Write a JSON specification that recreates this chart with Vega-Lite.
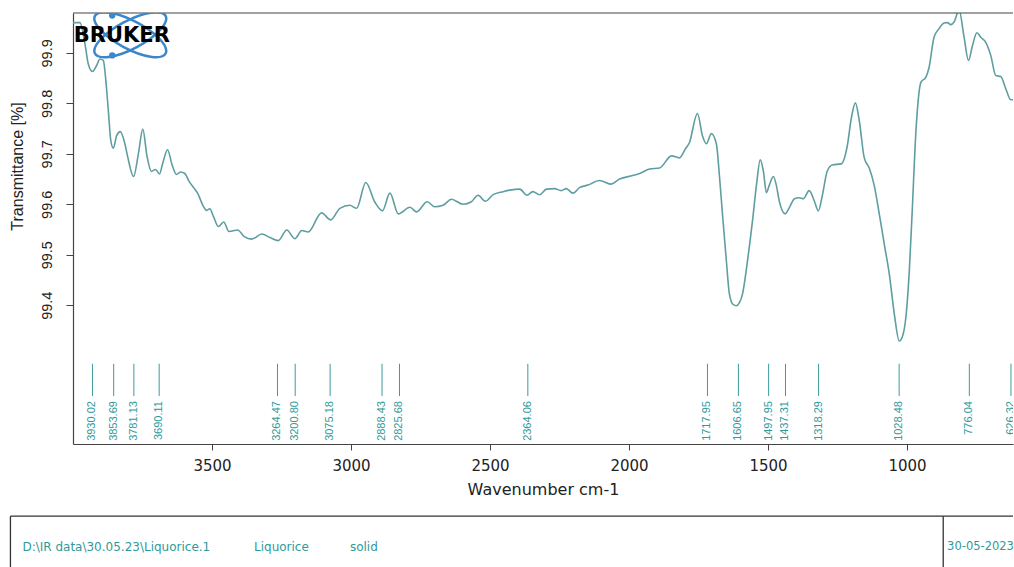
{
  "$schema": "https://vega.github.io/schema/vega-lite/v6.json",
  "padding": {"left": 9, "top": 12, "right": 0, "bottom": 0},
  "background": "white",
  "width": 940,
  "height": 431,
  "config": {"view": {"stroke": null}},
  "datasets": {
    "spectrum": [
      {"wavenumber": 4000, "transmittance": 99.960},
      {"wavenumber": 3975, "transmittance": 99.960},
      {"wavenumber": 3957, "transmittance": 99.918},
      {"wavenumber": 3945, "transmittance": 99.878},
      {"wavenumber": 3930, "transmittance": 99.863},
      {"wavenumber": 3915, "transmittance": 99.875},
      {"wavenumber": 3903, "transmittance": 99.888},
      {"wavenumber": 3891, "transmittance": 99.885},
      {"wavenumber": 3883, "transmittance": 99.852},
      {"wavenumber": 3873, "transmittance": 99.786},
      {"wavenumber": 3864, "transmittance": 99.726},
      {"wavenumber": 3855, "transmittance": 99.711},
      {"wavenumber": 3843, "transmittance": 99.736},
      {"wavenumber": 3830, "transmittance": 99.744},
      {"wavenumber": 3813, "transmittance": 99.719},
      {"wavenumber": 3804, "transmittance": 99.696},
      {"wavenumber": 3782, "transmittance": 99.655},
      {"wavenumber": 3764, "transmittance": 99.703},
      {"wavenumber": 3749, "transmittance": 99.749},
      {"wavenumber": 3734, "transmittance": 99.696},
      {"wavenumber": 3718, "transmittance": 99.665},
      {"wavenumber": 3703, "transmittance": 99.669},
      {"wavenumber": 3689, "transmittance": 99.660},
      {"wavenumber": 3677, "transmittance": 99.682},
      {"wavenumber": 3660, "transmittance": 99.708},
      {"wavenumber": 3644, "transmittance": 99.679},
      {"wavenumber": 3628, "transmittance": 99.659},
      {"wavenumber": 3613, "transmittance": 99.664},
      {"wavenumber": 3598, "transmittance": 99.661},
      {"wavenumber": 3582, "transmittance": 99.645},
      {"wavenumber": 3563, "transmittance": 99.631},
      {"wavenumber": 3551, "transmittance": 99.621},
      {"wavenumber": 3532, "transmittance": 99.597},
      {"wavenumber": 3520, "transmittance": 99.588},
      {"wavenumber": 3508, "transmittance": 99.591},
      {"wavenumber": 3495, "transmittance": 99.576},
      {"wavenumber": 3477, "transmittance": 99.556},
      {"wavenumber": 3458, "transmittance": 99.565},
      {"wavenumber": 3439, "transmittance": 99.546},
      {"wavenumber": 3408, "transmittance": 99.549},
      {"wavenumber": 3384, "transmittance": 99.536},
      {"wavenumber": 3357, "transmittance": 99.531},
      {"wavenumber": 3321, "transmittance": 99.541},
      {"wavenumber": 3291, "transmittance": 99.534},
      {"wavenumber": 3262, "transmittance": 99.528},
      {"wavenumber": 3231, "transmittance": 99.549},
      {"wavenumber": 3202, "transmittance": 99.532},
      {"wavenumber": 3177, "transmittance": 99.548},
      {"wavenumber": 3154, "transmittance": 99.545},
      {"wavenumber": 3106, "transmittance": 99.583},
      {"wavenumber": 3073, "transmittance": 99.569},
      {"wavenumber": 3040, "transmittance": 99.592},
      {"wavenumber": 3004, "transmittance": 99.598},
      {"wavenumber": 2980, "transmittance": 99.592},
      {"wavenumber": 2947, "transmittance": 99.643},
      {"wavenumber": 2914, "transmittance": 99.604},
      {"wavenumber": 2887, "transmittance": 99.587},
      {"wavenumber": 2860, "transmittance": 99.622},
      {"wavenumber": 2830, "transmittance": 99.581},
      {"wavenumber": 2788, "transmittance": 99.594},
      {"wavenumber": 2764, "transmittance": 99.585},
      {"wavenumber": 2726, "transmittance": 99.605},
      {"wavenumber": 2699, "transmittance": 99.595},
      {"wavenumber": 2669, "transmittance": 99.598},
      {"wavenumber": 2639, "transmittance": 99.610},
      {"wavenumber": 2597, "transmittance": 99.600},
      {"wavenumber": 2567, "transmittance": 99.605},
      {"wavenumber": 2543, "transmittance": 99.618},
      {"wavenumber": 2517, "transmittance": 99.606},
      {"wavenumber": 2489, "transmittance": 99.619},
      {"wavenumber": 2453, "transmittance": 99.625},
      {"wavenumber": 2429, "transmittance": 99.628},
      {"wavenumber": 2393, "transmittance": 99.630},
      {"wavenumber": 2367, "transmittance": 99.618},
      {"wavenumber": 2346, "transmittance": 99.625},
      {"wavenumber": 2322, "transmittance": 99.619},
      {"wavenumber": 2297, "transmittance": 99.630},
      {"wavenumber": 2268, "transmittance": 99.631},
      {"wavenumber": 2244, "transmittance": 99.627},
      {"wavenumber": 2226, "transmittance": 99.631},
      {"wavenumber": 2202, "transmittance": 99.622},
      {"wavenumber": 2178, "transmittance": 99.633},
      {"wavenumber": 2148, "transmittance": 99.638},
      {"wavenumber": 2106, "transmittance": 99.647},
      {"wavenumber": 2066, "transmittance": 99.640},
      {"wavenumber": 2034, "transmittance": 99.650},
      {"wavenumber": 1987, "transmittance": 99.657},
      {"wavenumber": 1962, "transmittance": 99.661},
      {"wavenumber": 1926, "transmittance": 99.670},
      {"wavenumber": 1890, "transmittance": 99.672},
      {"wavenumber": 1847, "transmittance": 99.696},
      {"wavenumber": 1819, "transmittance": 99.692},
      {"wavenumber": 1797, "transmittance": 99.710},
      {"wavenumber": 1783, "transmittance": 99.722},
      {"wavenumber": 1754, "transmittance": 99.780},
      {"wavenumber": 1736, "transmittance": 99.736},
      {"wavenumber": 1722, "transmittance": 99.720},
      {"wavenumber": 1704, "transmittance": 99.740},
      {"wavenumber": 1686, "transmittance": 99.720},
      {"wavenumber": 1675, "transmittance": 99.657},
      {"wavenumber": 1664, "transmittance": 99.581},
      {"wavenumber": 1650, "transmittance": 99.488},
      {"wavenumber": 1639, "transmittance": 99.422},
      {"wavenumber": 1625, "transmittance": 99.401},
      {"wavenumber": 1614, "transmittance": 99.399},
      {"wavenumber": 1603, "transmittance": 99.405},
      {"wavenumber": 1592, "transmittance": 99.422},
      {"wavenumber": 1574, "transmittance": 99.488},
      {"wavenumber": 1556, "transmittance": 99.567},
      {"wavenumber": 1542, "transmittance": 99.637},
      {"wavenumber": 1528, "transmittance": 99.688},
      {"wavenumber": 1517, "transmittance": 99.666},
      {"wavenumber": 1506, "transmittance": 99.623},
      {"wavenumber": 1496, "transmittance": 99.637},
      {"wavenumber": 1481, "transmittance": 99.655},
      {"wavenumber": 1470, "transmittance": 99.637},
      {"wavenumber": 1460, "transmittance": 99.607},
      {"wavenumber": 1438, "transmittance": 99.581},
      {"wavenumber": 1424, "transmittance": 99.593},
      {"wavenumber": 1405, "transmittance": 99.611},
      {"wavenumber": 1388, "transmittance": 99.613},
      {"wavenumber": 1373, "transmittance": 99.611},
      {"wavenumber": 1352, "transmittance": 99.627},
      {"wavenumber": 1334, "transmittance": 99.607},
      {"wavenumber": 1319, "transmittance": 99.587},
      {"wavenumber": 1305, "transmittance": 99.617},
      {"wavenumber": 1287, "transmittance": 99.666},
      {"wavenumber": 1269, "transmittance": 99.678},
      {"wavenumber": 1237, "transmittance": 99.680},
      {"wavenumber": 1215, "transmittance": 99.716},
      {"wavenumber": 1201, "transmittance": 99.769},
      {"wavenumber": 1186, "transmittance": 99.801},
      {"wavenumber": 1172, "transmittance": 99.766},
      {"wavenumber": 1154, "transmittance": 99.692},
      {"wavenumber": 1136, "transmittance": 99.672},
      {"wavenumber": 1118, "transmittance": 99.637},
      {"wavenumber": 1100, "transmittance": 99.581},
      {"wavenumber": 1082, "transmittance": 99.521},
      {"wavenumber": 1064, "transmittance": 99.462},
      {"wavenumber": 1046, "transmittance": 99.383},
      {"wavenumber": 1028, "transmittance": 99.329},
      {"wavenumber": 1014, "transmittance": 99.343},
      {"wavenumber": 1003, "transmittance": 99.383},
      {"wavenumber": 992, "transmittance": 99.468},
      {"wavenumber": 982, "transmittance": 99.581},
      {"wavenumber": 968, "transmittance": 99.746},
      {"wavenumber": 950, "transmittance": 99.842},
      {"wavenumber": 932, "transmittance": 99.852},
      {"wavenumber": 921, "transmittance": 99.871},
      {"wavenumber": 903, "transmittance": 99.931},
      {"wavenumber": 885, "transmittance": 99.948},
      {"wavenumber": 867, "transmittance": 99.959},
      {"wavenumber": 855, "transmittance": 99.960},
      {"wavenumber": 843, "transmittance": 99.956},
      {"wavenumber": 831, "transmittance": 99.961},
      {"wavenumber": 813, "transmittance": 99.985},
      {"wavenumber": 795, "transmittance": 99.931},
      {"wavenumber": 779, "transmittance": 99.885},
      {"wavenumber": 765, "transmittance": 99.914},
      {"wavenumber": 749, "transmittance": 99.940},
      {"wavenumber": 735, "transmittance": 99.931},
      {"wavenumber": 717, "transmittance": 99.921},
      {"wavenumber": 699, "transmittance": 99.895},
      {"wavenumber": 681, "transmittance": 99.855},
      {"wavenumber": 663, "transmittance": 99.853},
      {"wavenumber": 645, "transmittance": 99.829},
      {"wavenumber": 627, "transmittance": 99.807},
      {"wavenumber": 619, "transmittance": 99.807}
    ],
    "peaks": [
      {"wavenumber": 3930.02, "label": "3930.02"},
      {"wavenumber": 3853.69, "label": "3853.69"},
      {"wavenumber": 3781.13, "label": "3781.13"},
      {"wavenumber": 3690.11, "label": "3690.11"},
      {"wavenumber": 3264.47, "label": "3264.47"},
      {"wavenumber": 3200.80, "label": "3200.80"},
      {"wavenumber": 3075.18, "label": "3075.18"},
      {"wavenumber": 2888.43, "label": "2888.43"},
      {"wavenumber": 2825.68, "label": "2825.68"},
      {"wavenumber": 2364.06, "label": "2364.06"},
      {"wavenumber": 1717.95, "label": "1717.95"},
      {"wavenumber": 1606.65, "label": "1606.65"},
      {"wavenumber": 1497.95, "label": "1497.95"},
      {"wavenumber": 1437.31, "label": "1437.31"},
      {"wavenumber": 1318.29, "label": "1318.29"},
      {"wavenumber": 1028.48, "label": "1028.48"},
      {"wavenumber": 776.04, "label": "776.04"},
      {"wavenumber": 626.32, "label": "626.32"}
    ],
    "footer": [
      {"wavenumber": 4182, "text": "D:\\IR data\\30.05.23\\Liquorice.1"},
      {"wavenumber": 3349, "text": "Liquorice"},
      {"wavenumber": 3004, "text": "solid"}
    ],
    "footer_date": [
      {"wavenumber": 856, "text": "30-05-2023"}
    ]
  },
  "layer": [
    {
      "data": {"name": "spectrum"},
      "mark": {"type": "line", "interpolate": "monotone", "color": "#5f9ea0", "strokeWidth": 1.6, "clip": true},
      "encoding": {
        "x": {
          "field": "wavenumber", "type": "quantitative",
          "scale": {"domain": [619, 4000], "reverse": true, "nice": false, "zero": false},
          "axis": {
            "title": "Wavenumber cm-1", "values": [3500, 3000, 2500, 2000, 1500, 1000], "format": "d",
            "grid": false, "tickSize": 6, "labelPadding": 8,
            "labelFont": "DejaVu Sans", "labelFontSize": 15, "labelColor": "#222",
            "titleFont": "DejaVu Sans", "titleFontSize": 16, "titleFontWeight": "normal", "titleColor": "#222",
            "titleY": 45, "titleBaseline": "middle",
            "domainColor": "#444", "tickColor": "#444", "domainWidth": 1.2
          }
        },
        "y": {
          "field": "transmittance", "type": "quantitative",
          "scale": {"domain": [99.125, 99.979], "nice": false, "zero": false},
          "axis": {
            "title": "Transmittance [%]", "values": [99.4, 99.5, 99.6, 99.7, 99.8, 99.9], "format": ".1f",
            "grid": false, "tickSize": 7, "labelPadding": 12, "labelAngle": -90,
            "labelFont": "Liberation Sans", "labelFontSize": 14.5, "labelColor": "#222",
            "titleFont": "Liberation Sans", "titleFontSize": 16, "titleFontWeight": "normal", "titleColor": "#222",
            "titleX": -56, "titleY": 153, "titleAngle": 270, "titleBaseline": "middle", "titleAlign": "center",
            "domainColor": "#444", "tickColor": "#444", "domainWidth": 1.2
          }
        }
      }
    },
    {
      "data": {"name": "peaks"},
      "mark": {"type": "rule", "color": "#3a9c9c", "strokeWidth": 1, "clip": true},
      "encoding": {
        "x": {"field": "wavenumber", "type": "quantitative"},
        "y": {"datum": 99.284},
        "y2": {"datum": 99.220}
      }
    },
    {
      "data": {"name": "peaks"},
      "mark": {"type": "text", "angle": 270, "align": "right", "baseline": "middle", "font": "Liberation Sans", "fontSize": 11, "color": "#2f9a9a", "clip": true},
      "encoding": {
        "x": {"field": "wavenumber", "type": "quantitative"},
        "y": {"datum": 99.210},
        "text": {"field": "label"}
      }
    },
    {
      "data": {"values": [{}]},
      "mark": {"type": "rule", "color": "#444", "strokeWidth": 1.2},
      "encoding": {"y": {"datum": 99.979}}
    },
    {
      "data": {"values": [{}]},
      "mark": {"type": "point", "shape": "M-1,0 A1,0.35 0 1,1 1,0 A1,0.35 0 1,1 -1,0 Z", "size": 6400, "angle": 28, "filled": false, "stroke": "#3b87cc", "strokeWidth": 2.5, "opacity": 1, "clip": true},
      "encoding": {"x": {"datum": 3794}, "y": {"datum": 99.936}}
    },
    {
      "data": {"values": [{}]},
      "mark": {"type": "point", "shape": "M-1,0 A1,0.35 0 1,1 1,0 A1,0.35 0 1,1 -1,0 Z", "size": 6400, "angle": -28, "filled": false, "stroke": "#3b87cc", "strokeWidth": 2.5, "opacity": 1, "clip": true},
      "encoding": {"x": {"datum": 3794}, "y": {"datum": 99.936}}
    },
    {
      "data": {"values": [{}]},
      "mark": {"type": "point", "shape": "circle", "size": 40, "filled": true, "color": "#3b87cc", "opacity": 1, "clip": true},
      "encoding": {"x": {"datum": 3859}, "y": {"datum": 99.974}}
    },
    {
      "data": {"values": [{}]},
      "mark": {"type": "point", "shape": "circle", "size": 40, "filled": true, "color": "#3b87cc", "opacity": 1, "clip": true},
      "encoding": {"x": {"datum": 3859}, "y": {"datum": 99.895}}
    },
    {
      "data": {"values": [{}]},
      "mark": {"type": "text", "text": "BRUKER", "align": "left", "baseline": "middle", "font": "DejaVu Sans", "fontWeight": "bold", "fontSize": 21, "color": "#000", "clip": true},
      "encoding": {"x": {"datum": 3997}, "y": {"datum": 99.934}}
    },
    {
      "data": {"values": [{}]},
      "mark": {"type": "rule", "color": "#333", "strokeWidth": 1.3},
      "encoding": {"x": {"datum": 4225}, "x2": {"datum": 619}, "y": {"datum": 98.982}}
    },
    {
      "data": {"values": [{}]},
      "mark": {"type": "rule", "color": "#333", "strokeWidth": 1.3},
      "encoding": {"x": {"datum": 4225}, "y": {"datum": 98.982}, "y2": {"datum": 98.881}}
    },
    {
      "data": {"values": [{}]},
      "mark": {"type": "rule", "color": "#333", "strokeWidth": 1.3},
      "encoding": {"x": {"datum": 870}, "y": {"datum": 98.982}, "y2": {"datum": 98.881}}
    },
    {
      "data": {"name": "footer"},
      "mark": {"type": "text", "align": "left", "baseline": "middle", "font": "DejaVu Sans", "fontSize": 12, "color": "#2f9a9a"},
      "encoding": {
        "x": {"field": "wavenumber", "type": "quantitative"},
        "y": {"datum": 98.920},
        "text": {"field": "text"}
      }
    },
    {
      "data": {"name": "footer_date"},
      "mark": {"type": "text", "align": "left", "baseline": "middle", "font": "DejaVu Sans", "fontSize": 11.5, "color": "#2f9a9a"},
      "encoding": {
        "x": {"field": "wavenumber", "type": "quantitative"},
        "y": {"datum": 98.920},
        "text": {"field": "text"}
      }
    }
  ]
}
